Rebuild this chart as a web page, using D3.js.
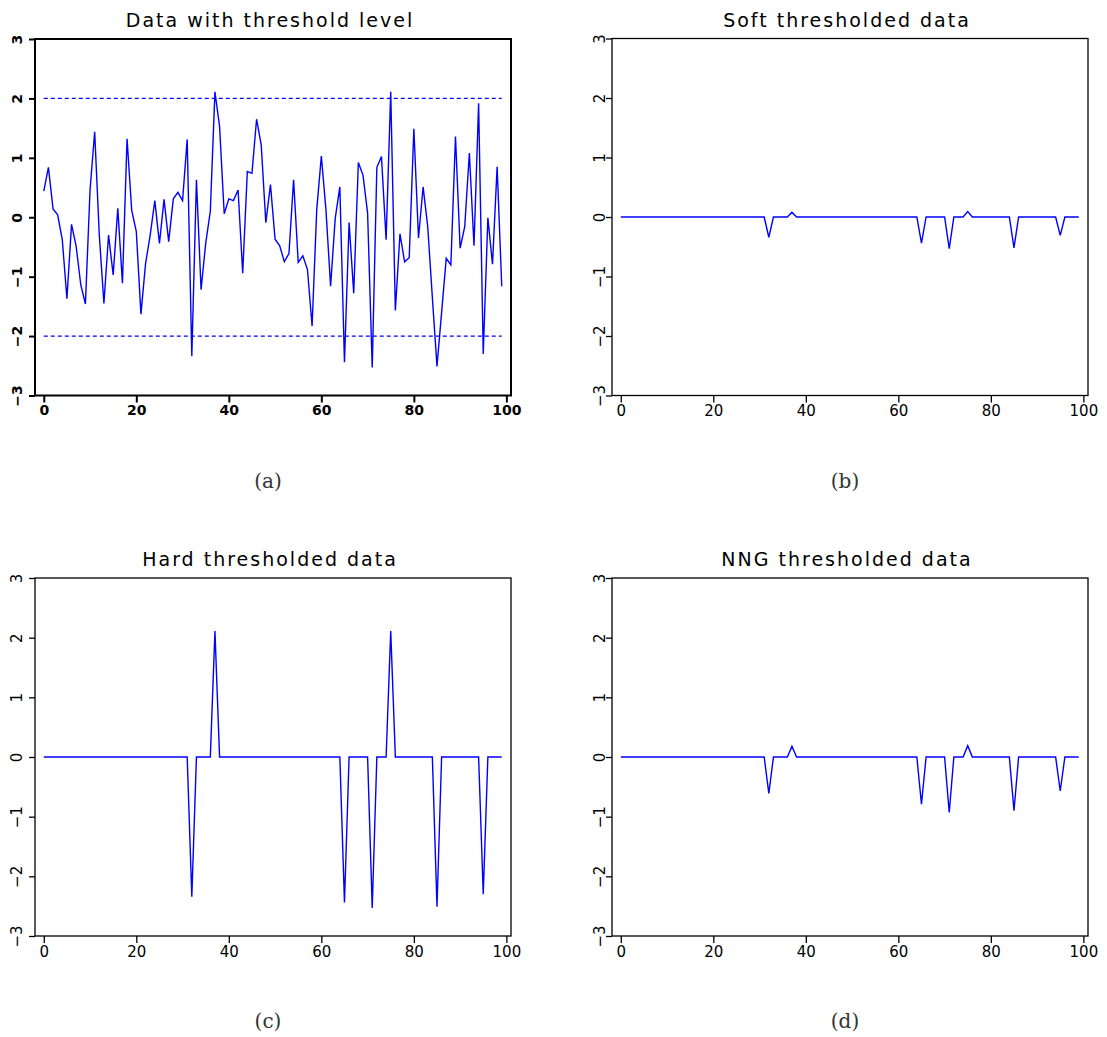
<!DOCTYPE html>
<html>
<head>
<meta charset="utf-8">
<script src="https://cdn.jsdelivr.net/npm/d3@7"></script>
<style>
  html, body { margin: 0; padding: 0; background: #fff; }
  svg { display: block; }
</style>
</head>
<body>
<svg id="chart" width="1107" height="1037"></svg>
<script>
// ---------- data ----------
const xTicks = [0, 20, 40, 60, 80, 100];
const yTicks = [-3, -2, -1, 0, 1, 2, 3];
const thresholdLevels = [2, -2];

const rawData = [
  0.44, 0.84, 0.14, 0.04, -0.38, -1.37, -0.12, -0.49, -1.14, -1.46,
  0.46, 1.44, -0.30, -1.45, -0.30, -0.97, 0.15, -1.11, 1.32, 0.12,
  -0.24, -1.63, -0.78, -0.30, 0.28, -0.44, 0.30, -0.41, 0.31, 0.42,
  0.28, 1.31, -2.34, 0.63, -1.22, -0.44, 0.10, 2.11, 1.53, 0.06,
  0.31, 0.28, 0.46, -0.94, 0.77, 0.74, 1.65, 1.22, -0.09, 0.55,
  -0.37, -0.48, -0.75, -0.61, 0.63, -0.76, -0.65, -0.88, -1.83, 0.12,
  1.03, 0.12, -1.16, -0.02, 0.51, -2.44, -0.09, -1.28, 0.92, 0.71,
  0.07, -2.53, 0.84, 1.02, -0.38, 2.11, -1.57, -0.28, -0.75, -0.68,
  1.49, -0.35, 0.51, -0.16, -1.35, -2.51, -1.60, -0.69, -0.80, 1.36,
  -0.52, -0.16, 1.08, -0.48, 1.92, -2.30, -0.01, -0.79, 0.85, -1.16
];

const softData = [
  0, 0, 0, 0, 0, 0, 0, 0, 0, 0,
  0, 0, 0, 0, 0, 0, 0, 0, 0, 0,
  0, 0, 0, 0, 0, 0, 0, 0, 0, 0,
  0, 0, -0.34, 0, 0, 0, 0, 0.08, 0, 0,
  0, 0, 0, 0, 0, 0, 0, 0, 0, 0,
  0, 0, 0, 0, 0, 0, 0, 0, 0, 0,
  0, 0, 0, 0, 0, -0.44, 0, 0, 0, 0,
  0, -0.53, 0, 0, 0, 0.09, 0, 0, 0, 0,
  0, 0, 0, 0, 0, -0.52, 0, 0, 0, 0,
  0, 0, 0, 0, 0, -0.31, 0, 0, 0, 0
];

const hardData = [
  0, 0, 0, 0, 0, 0, 0, 0, 0, 0,
  0, 0, 0, 0, 0, 0, 0, 0, 0, 0,
  0, 0, 0, 0, 0, 0, 0, 0, 0, 0,
  0, 0, -2.34, 0, 0, 0, 0, 2.11, 0, 0,
  0, 0, 0, 0, 0, 0, 0, 0, 0, 0,
  0, 0, 0, 0, 0, 0, 0, 0, 0, 0,
  0, 0, 0, 0, 0, -2.44, 0, 0, 0, 0,
  0, -2.53, 0, 0, 0, 2.11, 0, 0, 0, 0,
  0, 0, 0, 0, 0, -2.51, 0, 0, 0, 0,
  0, 0, 0, 0, 0, -2.30, 0, 0, 0, 0
];

const nngData = [
  0, 0, 0, 0, 0, 0, 0, 0, 0, 0,
  0, 0, 0, 0, 0, 0, 0, 0, 0, 0,
  0, 0, 0, 0, 0, 0, 0, 0, 0, 0,
  0, 0, -0.61, 0, 0, 0, 0, 0.18, 0, 0,
  0, 0, 0, 0, 0, 0, 0, 0, 0, 0,
  0, 0, 0, 0, 0, 0, 0, 0, 0, 0,
  0, 0, 0, 0, 0, -0.79, 0, 0, 0, 0,
  0, -0.93, 0, 0, 0, 0.19, 0, 0, 0, 0,
  0, 0, 0, 0, 0, -0.90, 0, 0, 0, 0,
  0, 0, 0, 0, 0, -0.57, 0, 0, 0, 0
];

const titles = ["Data with threshold level", "Soft thresholded data", "Hard thresholded data", "NNG thresholded data"];
const captions = ["(a)", "(b)", "(c)", "(d)"];

// ---------- layout ----------
const panels = [
  { series: rawData,  title: titles[0], caption: captions[0], left: 35,  right: 511,  top: 39,   bottom: 395.5, bold: true,  labelX: 22,  threshold: true },
  { series: softData, title: titles[1], caption: captions[1], left: 612, right: 1088, top: 38.5, bottom: 395.5, bold: false, labelX: 605, threshold: false },
  { series: hardData, title: titles[2], caption: captions[2], left: 35,  right: 511,  top: 578,  bottom: 936,   bold: false, labelX: 22,  threshold: false },
  { series: nngData,  title: titles[3], caption: captions[3], left: 612, right: 1088, top: 578,  bottom: 936,   bold: false, labelX: 605, threshold: false }
];

const svg = d3.select("#chart");
const BLUE = "#0000ff";

panels.forEach(p => {
  const x = d3.scaleLinear().domain([-1.9, 101]).range([p.left, p.right]);
  const y = d3.scaleLinear().domain([-3, 3]).range([p.bottom, p.top]);
  const g = svg.append("g");
  const tickFont = p.bold ? "bold 14px 'DejaVu Sans'" : "15px 'DejaVu Sans'";
  const frameW = p.bold ? 2 : 1.3;

  // x axis
  const xAxis = d3.axisBottom(x).tickValues(xTicks).tickSize(7).tickSizeOuter(0).tickPadding(3);
  const xg = g.append("g").attr("transform", `translate(0,${p.bottom})`).call(xAxis);
  xg.select(".domain").remove();
  xg.selectAll("line").attr("stroke", "#000").attr("stroke-width", frameW);
  xg.selectAll("text").style("font", tickFont).attr("fill", "#000");

  // y axis
  const yAxis = d3.axisLeft(y).tickValues(yTicks).tickSize(6).tickSizeOuter(0)
    .tickFormat(d => d < 0 ? "\u2212" + Math.abs(d) : String(d));
  const yg = g.append("g").attr("transform", `translate(${p.left},0)`).call(yAxis);
  yg.select(".domain").remove();
  yg.selectAll("line").attr("stroke", "#000").attr("stroke-width", frameW);
  yg.selectAll("text")
    .style("font", tickFont).attr("fill", "#000")
    .attr("x", null).attr("y", null).attr("dy", null)
    .attr("text-anchor", "middle")
    .attr("transform", `translate(${p.labelX - p.left},0) rotate(-90)`);

  // frame
  g.append("rect")
    .attr("x", p.left).attr("y", p.top)
    .attr("width", p.right - p.left).attr("height", p.bottom - p.top)
    .attr("fill", "none").attr("stroke", "#000").attr("stroke-width", frameW);

  // threshold lines
  if (p.threshold) {
    thresholdLevels.forEach(t => {
      g.append("line")
        .attr("x1", x(0)).attr("x2", x(99))
        .attr("y1", y(t)).attr("y2", y(t))
        .attr("stroke", BLUE).attr("stroke-width", 1.3)
        .attr("stroke-dasharray", "4,3");
    });
  }

  // data line
  const line = d3.line().x((d, i) => x(i)).y(d => y(d));
  g.append("path")
    .datum(p.series)
    .attr("d", line)
    .attr("fill", "none")
    .attr("stroke", BLUE)
    .attr("stroke-width", 1.4)
    .attr("stroke-linejoin", "miter");

  // title
  g.append("text")
    .attr("x", (p.left + p.right) / 2 - 3)
    .attr("y", p.top - 12)
    .attr("text-anchor", "middle")
    .style("font", "19px 'DejaVu Sans'")
    .style("letter-spacing", "2px")
    .attr("fill", "#000")
    .text(p.title);

  // caption
  g.append("text")
    .attr("x", (p.left + p.right) / 2 - 5)
    .attr("y", p.bottom + 92)
    .attr("text-anchor", "middle")
    .style("font", "20px 'DejaVu Serif'")
    .attr("fill", "#333")
    .text(p.caption);
});
</script>
</body>
</html>
